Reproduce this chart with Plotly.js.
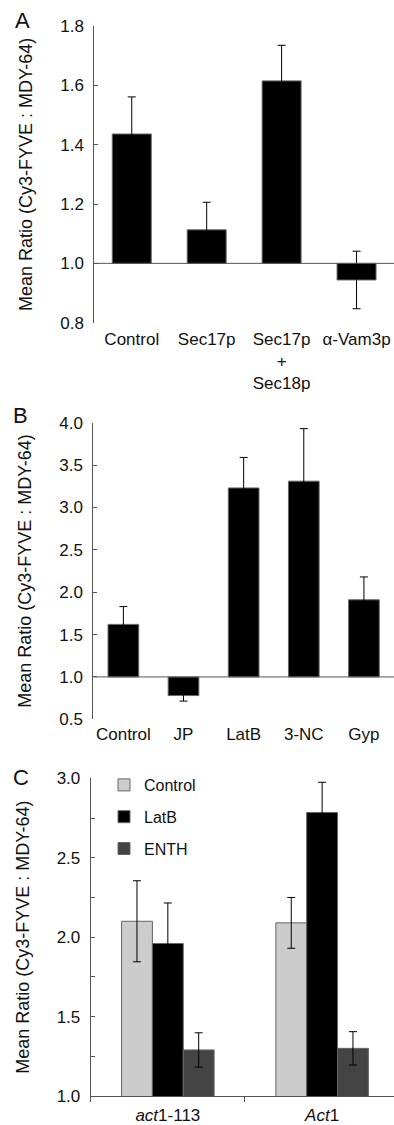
<!DOCTYPE html>
<html>
<head>
<meta charset="utf-8">
<script src="https://cdn.plot.ly/plotly-3.0.1.min.js"></script>
<style>html,body{margin:0;padding:0;background:#fff;}#chart{width:394px;height:1125px;}</style>
</head>
<body>
<div id="chart"></div>
<script>
// Panel A
const catsA = ["Control", "Sec17p", "Sec17p<br>+<br>Sec18p", "α-Vam3p"];
const valsA = [1.436, 1.113, 1.615, 0.944];
const errA  = [0.125, 0.093, 0.12, 0.097];
// Panel B
const catsB = ["Control", "JP", "LatB", "3-NC", "Gyp"];
const valsB = [1.62, 0.78, 3.23, 3.31, 1.91];
const errB  = [0.21, 0.065, 0.36, 0.62, 0.27];
// Panel C
const catsC = ["<i>act</i>1-113", "<i>Act</i>1"];
const seriesC = ["Control", "LatB", "ENTH"];
const valsControlC = [2.10, 2.09];
const errControlC  = [0.255, 0.16];
const valsLatBC    = [1.96, 2.785];
const errLatBC     = [0.255, 0.19];
const valsEnthC    = [1.29, 1.30];
const errEnthC     = [0.108, 0.105];
const yTicksA = [0.8, 1.0, 1.2, 1.4, 1.6, 1.8];
const yTicksB = [0.5, 1.0, 1.5, 2.0, 2.5, 3.0, 3.5, 4.0];
const yTicksC = [1.0, 1.25, 1.5, 1.75, 2.0, 2.25, 2.5, 2.75, 3.0];
const yTickTextC = ["1.0", "", "1.5", "", "2.0", "", "2.5", "", "3.0"];
const yTitle = "Mean Ratio (Cy3-FYVE : MDY-64)";
const baseline = 1.0;

const W = 394, H = 1125;
const fx = p => p / W;
const fy = p => (H - p) / H;
const FONT = "Liberation Sans, Arial, Helvetica, sans-serif";
const axisCol = "#555555";
const outline = {color: "#666666", width: 1};
const errStyle = (arr) => ({type: "data", array: arr, visible: true, color: "#000000", thickness: 1, width: 4});

const traces = [
  {type: "bar", x: catsA, y: valsA.map(v => v - baseline), base: baseline, width: 0.52,
   marker: {color: "#000000", line: outline}, error_y: errStyle(errA),
   xaxis: "x", yaxis: "y", showlegend: false, hoverinfo: "skip"},
  {type: "bar", x: catsB, y: valsB.map(v => v - baseline), base: baseline, width: 0.51,
   marker: {color: "#000000", line: outline}, error_y: errStyle(errB),
   xaxis: "x2", yaxis: "y2", showlegend: false, hoverinfo: "skip"},
  {type: "bar", name: seriesC[0], x: catsC, y: valsControlC, legendgroup: "a",
   marker: {color: "#cccccc", line: outline}, error_y: errStyle(errControlC),
   xaxis: "x3", yaxis: "y3"},
  {type: "bar", name: seriesC[1], x: catsC, y: valsLatBC, legendgroup: "b",
   marker: {color: "#000000", line: outline}, error_y: errStyle(errLatBC),
   xaxis: "x3", yaxis: "y3"},
  {type: "bar", name: seriesC[2], x: catsC, y: valsEnthC, legendgroup: "c",
   marker: {color: "#444444", line: outline}, error_y: errStyle(errEnthC),
   xaxis: "x3", yaxis: "y3"}
];

const yCommon = {
  showline: true, linecolor: axisCol, linewidth: 1, ticks: "inside", ticklen: 4,
  tickcolor: axisCol, tickwidth: 1, showgrid: false, zeroline: false,
  tickfont: {family: FONT, size: 17, color: "#111"}, ticklabelstandoff: 6,
  title: {text: yTitle, font: {family: FONT, size: 18, color: "#111"}, standoff: 22}
};

const layout = {
  width: W, height: H, margin: {l: 0, r: 0, t: 0, b: 0},
  paper_bgcolor: "#ffffff", plot_bgcolor: "rgba(0,0,0,0)",
  barmode: "group", bargap: 0.4, bargroupgap: 0,
  font: {family: FONT, size: 17, color: "#111"},
  showlegend: true,
  legend: {x: fx(104), y: fy(768), xanchor: "left", yanchor: "top",
           font: {family: FONT, size: 16, color: "#111"}, traceorder: "grouped",
           tracegroupgap: 8, bgcolor: "rgba(0,0,0,0)"},
  xaxis: {domain: [fx(94.3), 1], anchor: "y", range: [-0.5, 3.5], showline: false, ticks: "",
          showgrid: false, zeroline: false, tickfont: {family: FONT, size: 17, color: "#111"},
          ticklabelstandoff: 4},
  yaxis: Object.assign({}, yCommon, {domain: [fy(322.7), fy(26)], anchor: "x", range: [0.8, 1.8], tickvals: yTicksA, ticktext: yTicksA.map(v => v.toFixed(1))}),
  xaxis2: {domain: [fx(93.3), 1], anchor: "y2", range: [-0.5, 4.5], showline: false, ticks: "",
           showgrid: false, zeroline: false, tickfont: {family: FONT, size: 17, color: "#111"},
           ticklabelstandoff: 3},
  yaxis2: Object.assign({}, yCommon, {domain: [fy(719.3), fy(422.7)], anchor: "x2", range: [0.5, 4.0], tickvals: yTicksB, ticktext: yTicksB.map(v => v.toFixed(1))}),
  xaxis3: {domain: [fx(90.7), 1], anchor: "y3", range: [-0.5, 1.466], showline: true, linecolor: axisCol,
           linewidth: 1, ticks: "outside", ticklen: 5, tickcolor: axisCol, tickson: "boundaries",
           showgrid: false, zeroline: false, tickfont: {family: FONT, size: 17, color: "#111"},
           ticklabelstandoff: 4},
  yaxis3: Object.assign({}, yCommon, {domain: [fy(1096), fy(778.3)], anchor: "x3", range: [1.0, 3.0], tickvals: yTicksC, ticktext: yTickTextC}),
  shapes: [
    {type: "line", xref: "x domain", yref: "y", x0: 0, x1: 1, y0: baseline, y1: baseline, line: {color: axisCol, width: 1}},
    {type: "line", xref: "x2 domain", yref: "y2", x0: 0, x1: 1, y0: baseline, y1: baseline, line: {color: axisCol, width: 1}}
  ],
  annotations: [
    {text: "A", xref: "paper", yref: "paper", x: fx(22), y: fy(20), xanchor: "center", yanchor: "middle", showarrow: false, font: {family: FONT, size: 22, color: "#111"}},
    {text: "B", xref: "paper", yref: "paper", x: fx(20), y: fy(415), xanchor: "center", yanchor: "middle", showarrow: false, font: {family: FONT, size: 22, color: "#111"}},
    {text: "C", xref: "paper", yref: "paper", x: fx(21), y: fy(777), xanchor: "center", yanchor: "middle", showarrow: false, font: {family: FONT, size: 22, color: "#111"}}
  ]
};

Plotly.newPlot("chart", traces, layout, {displayModeBar: false, staticPlot: true});
</script>
</body>
</html>
